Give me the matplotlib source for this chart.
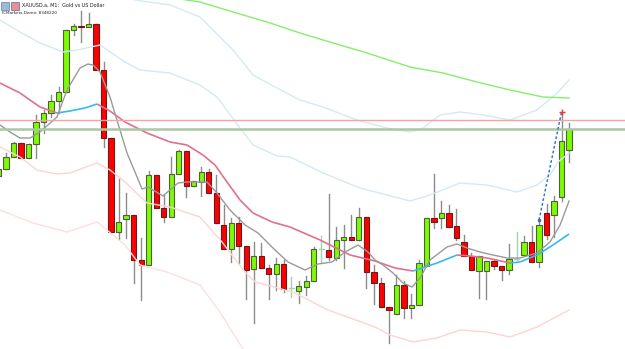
import numpy as np
import matplotlib.pyplot as plt
from matplotlib.patches import Rectangle
from matplotlib.collections import LineCollection

# XAUUSD.a M1 candles (bar index = position in list)
opens = [2332.4, 2333.1, 2334.3, 2335.7, 2334.2, 2335.6, 2337.8, 2338.7, 2339.9, 2340.8,
         2347.0, 2347.4, 2347.3, 2347.6, 2343.0, 2336.2, 2326.8, 2328.1, 2328.5, 2324.0,
         2323.5, 2332.5, 2329.2, 2328.3, 2332.6, 2334.9, 2331.4, 2331.8, 2332.8, 2330.7,
         2327.5, 2325.1, 2327.7, 2325.4, 2323.1, 2324.4, 2323.2, 2322.6, 2323.6, 2321.2,
         2320.9, 2321.3, 2321.9, 2325.1, 2325.0, 2324.2, 2326.0, 2326.3, 2326.0, 2328.3,
         2322.8, 2321.7, 2319.3, 2318.6, 2321.5, 2319.2, 2319.5, 2323.4, 2328.2, 2328.2,
         2328.7, 2327.4, 2325.8, 2324.4, 2322.9, 2322.9, 2323.9, 2323.4, 2323.0, 2324.1,
         2324.5, 2325.8, 2323.8, 2328.7, 2328.5, 2330.3, 2335.0]
highs = [2333.5, 2334.7, 2335.8, 2335.7, 2335.6, 2338.5, 2339.0, 2340.5, 2341.3, 2347.0,
         2347.6, 2348.9, 2348.7, 2347.6, 2343.8, 2336.2, 2332.1, 2330.7, 2328.5, 2326.2,
         2332.9, 2332.5, 2330.5, 2334.3, 2335.0, 2334.9, 2331.9, 2333.3, 2333.1, 2332.5,
         2329.5, 2328.2, 2328.3, 2325.4, 2325.8, 2325.7, 2323.5, 2324.2, 2324.0, 2322.3,
         2321.9, 2322.4, 2325.3, 2326.4, 2330.6, 2327.3, 2327.5, 2328.5, 2329.2, 2328.3,
         2323.5, 2322.2, 2319.3, 2322.5, 2321.9, 2320.6, 2324.0, 2328.2, 2332.6, 2329.9,
         2329.5, 2329.1, 2326.5, 2324.7, 2324.4, 2323.9, 2324.1, 2323.4, 2325.6, 2326.8,
         2326.4, 2327.4, 2328.0, 2329.6, 2330.4, 2338.8, 2337.7]
lows = [2332.2, 2333.1, 2334.3, 2334.2, 2334.2, 2334.2, 2336.7, 2338.3, 2338.7, 2340.8,
        2346.5, 2345.8, 2347.3, 2343.0, 2335.3, 2326.8, 2326.1, 2326.2, 2321.7, 2320.0,
        2323.5, 2329.2, 2327.8, 2328.3, 2332.6, 2330.3, 2331.4, 2330.4, 2330.7, 2327.7,
        2325.1, 2323.8, 2323.7, 2320.1, 2317.7, 2323.2, 2320.1, 2321.0, 2320.8, 2320.3,
        2319.7, 2320.5, 2321.9, 2323.8, 2324.0, 2324.0, 2323.2, 2326.0, 2326.0, 2321.2,
        2319.6, 2319.3, 2315.7, 2318.6, 2318.2, 2318.2, 2319.5, 2323.4, 2327.2, 2327.2,
        2327.3, 2326.0, 2324.4, 2323.0, 2320.2, 2320.1, 2323.1, 2322.0, 2322.6, 2324.0,
        2324.5, 2323.8, 2323.3, 2326.1, 2326.3, 2329.9, 2333.8]
closes = [2333.1, 2334.3, 2335.7, 2334.2, 2335.6, 2337.8, 2338.7, 2339.9, 2340.8, 2347.0,
          2347.4, 2347.3, 2347.6, 2343.0, 2336.2, 2326.8, 2327.8, 2328.5, 2324.0, 2323.5,
          2332.5, 2329.2, 2328.3, 2332.6, 2334.9, 2331.4, 2331.9, 2332.8, 2330.7, 2327.7,
          2325.1, 2327.7, 2325.4, 2323.0, 2324.4, 2323.2, 2322.6, 2323.6, 2321.1, 2321.2,
          2321.4, 2321.9, 2325.1, 2325.1, 2324.3, 2326.0, 2326.3, 2326.0, 2328.3, 2322.8,
          2321.7, 2319.3, 2319.0, 2321.5, 2319.2, 2319.5, 2323.7, 2328.2, 2327.8, 2328.7,
          2327.3, 2326.2, 2324.4, 2323.0, 2324.4, 2323.9, 2323.4, 2323.0, 2324.1, 2324.1,
          2325.8, 2323.8, 2327.5, 2326.5, 2329.9, 2335.9, 2337.1]

# indicator lines (bar position, price)
mid_x = [0.2, 2.86, 5.53, 7.79, 9.52, 11.52, 13.12, 14.85, 16.85, 19.78, 22.84, 25.11,
         27.24, 28.84, 29.77, 32.17, 33.9, 36.43, 38.83, 42.83, 46.82, 50.15, 52.82,
         55.22, 58.41, 61.08, 62.81, 65.07, 68.14, 69.47, 71.73, 73.86, 76.0]
mid_y = [2341.7, 2340.7, 2339.3, 2338.7, 2338.9, 2339.2, 2339.6, 2338.9, 2337.8, 2336.7,
         2335.8, 2335.5, 2334.5, 2333.5, 2332.5, 2330.0, 2328.7, 2327.8, 2327.3, 2326.0,
         2324.5, 2323.9, 2323.2, 2322.9, 2323.7, 2324.5, 2324.4, 2324.2, 2323.7, 2323.8,
         2324.5, 2325.5, 2326.6]

fast_x = [0.2, 1.53, 2.86, 4.2, 5.53, 7.79, 9.12, 10.86, 11.92, 12.59, 13.52, 14.85,
          16.18, 17.12, 19.12, 19.91, 21.91, 23.91, 25.11, 27.77, 29.1, 30.84, 32.84,
          34.57, 36.83, 38.56, 40.83, 42.56, 44.42, 46.16, 47.89, 49.22, 50.15, 51.22,
          52.55, 53.88, 55.08, 56.15, 57.48, 59.74, 61.08, 62.41, 64.14, 65.87, 67.74,
          69.47, 71.73, 73.46, 74.8, 76.0]
fast_y = [2337.5, 2336.8, 2336.2, 2336.2, 2336.8, 2338.3, 2341.0, 2343.2, 2343.6, 2343.5,
          2342.8, 2340.3, 2337.0, 2334.7, 2331.1, 2331.3, 2330.4, 2331.7, 2331.8, 2331.8,
          2330.7, 2329.0, 2327.5, 2326.7, 2325.0, 2323.8, 2323.0, 2323.6, 2323.8, 2324.8,
          2325.5, 2324.8, 2324.0, 2323.5, 2322.7, 2321.7, 2321.3, 2322.2, 2324.0, 2325.3,
          2325.6, 2325.2, 2324.8, 2324.5, 2324.2, 2324.2, 2324.7, 2325.8, 2327.5, 2329.9]

slow_x = [22.0, 24.18, 26.84, 31.24, 35.77, 40.16, 44.56, 49.09, 54.82, 59.21, 63.74,
          68.14, 72.53, 76.0]
slow_y = [2350.6, 2350.1, 2349.8, 2348.8, 2347.8, 2346.7, 2345.7, 2344.7, 2343.3, 2342.7,
          2341.8, 2341.0, 2340.3, 2340.2]

up2_x = [17.0, 18.18, 22.84, 26.84, 31.24, 33.9, 37.1, 40.16, 43.23, 47.75, 51.75, 54.82,
         56.55, 58.81, 61.48, 64.54, 68.14, 71.73, 74.4, 76.0]
up2_y = [2350.5, 2350.0, 2349.5, 2348.3, 2345.0, 2342.5, 2341.2, 2340.0, 2339.3, 2338.0,
         2337.2, 2336.8, 2337.2, 2338.5, 2338.8, 2338.5, 2338.0, 2339.0, 2340.7, 2342.0]

up1_x = [0.2, 2.86, 5.53, 8.59, 10.46, 13.52, 16.85, 18.85, 22.84, 26.84, 29.1, 32.17,
         33.9, 37.1, 38.83, 43.23, 48.15, 54.82, 57.48, 61.48, 65.07, 69.07, 71.73, 73.46,
         74.53, 76.0]
up1_y = [2348.0, 2346.8, 2345.7, 2344.8, 2345.0, 2345.5, 2343.8, 2343.0, 2342.7, 2341.5,
         2340.3, 2337.2, 2335.5, 2334.4, 2334.3, 2332.7, 2331.2, 2329.9, 2330.5, 2331.7,
         2331.5, 2330.8, 2331.5, 2332.5, 2333.8, 2334.7]

lo1_x = [0.2, 2.86, 5.13, 7.79, 9.52, 13.12, 14.85, 16.85, 19.78, 22.84, 26.84, 29.77,
         32.84, 34.17, 37.23, 39.5, 43.89, 50.15, 52.15, 55.22, 58.41, 61.48, 65.07, 68.14,
         71.73, 76.0]
lo1_y = [2335.3, 2334.3, 2333.0, 2332.6, 2332.7, 2333.7, 2333.0, 2331.8, 2329.7, 2329.3,
         2328.3, 2325.8, 2322.8, 2321.8, 2321.2, 2320.7, 2319.0, 2317.3, 2316.5, 2315.8,
         2316.2, 2317.0, 2316.8, 2316.3, 2317.3, 2319.0]

lo2_x = [0.2, 4.6, 9.12, 13.12, 15.25, 16.85, 18.85, 22.45, 26.84, 29.5, 32.57, 34.17]
lo2_y = [2329.0, 2327.7, 2326.8, 2327.8, 2326.5, 2325.5, 2323.5, 2322.8, 2321.5, 2318.8,
         2315.1, 2313.5]

level_red = 2338.0
level_green = 2337.1
trend_x = [72, 75]
trend_y = [2328.0, 2338.8]

fig = plt.figure(figsize=(6.25, 3.49), dpi=100)
ax = fig.add_axes([0, 0, 1, 1])
ax.set_xlim(0.2, 83.45)
ax.set_ylim(2315.1, 2350.0)
ax.axis('off')

# bands and moving averages
ax.plot(up2_x, up2_y, color='#d3eaf3', lw=1.0, zorder=3)
ax.plot(up1_x, up1_y, color='#d3eaf3', lw=1.0, zorder=3)
ax.plot(lo1_x, lo1_y, color='#ffd3d3', lw=1.0, zorder=3)
ax.plot(lo2_x, lo2_y, color='#ffdede', lw=1.0, zorder=3)
ax.plot(slow_x, slow_y, color='#88ec6c', lw=1.0, zorder=3)

pts = np.column_stack([mid_x, mid_y])
segs = np.stack([pts[:-1], pts[1:]], axis=1)
seg_cols = ['#33bbee' if d > 0 else '#e0708c' for d in np.diff(mid_y)]
ax.add_collection(LineCollection(segs, colors=seg_cols, linewidths=1.2, zorder=4))
ax.plot(fast_x, fast_y, color='#9a9a9a', lw=1.0, zorder=4)

# candles
w = 0.7
for i, (o, h, l, c) in enumerate(zip(opens, highs, lows, closes)):
    if o == c:
        ax.plot([i, i], [l, h], color='#9fd6b0', lw=1, zorder=2)
        ax.plot([i - w / 2, i + w / 2], [o, o], color='#9fd6b0', lw=1, zorder=2)
        continue
    ax.plot([i, i], [l, h], color='#8c8c8c', lw=1.0, zorder=1)
    if c > o:
        face, edge = '#7cfc00', '#4f5f3c'
    else:
        face, edge = '#ff0000', '#6e1a1a'
    ax.add_patch(Rectangle((i - w / 2, min(o, c)), w, abs(c - o),
                           facecolor=face, edgecolor=edge, lw=0.8, zorder=2))

# levels and trend line
ax.axhline(level_red, color='#f4a4a4', lw=1, zorder=5)
ax.axhline(level_green, color='#a9c8a2', lw=1.8, zorder=5)
ax.plot(trend_x, trend_y, color='#2a6fbf', lw=1, ls=(0, (2, 1.5)), zorder=6)
ax.plot(trend_x[0], trend_y[0], marker='.', color='#2a6fbf', ms=3, zorder=6)
ax.plot(trend_x[1], trend_y[1], marker='+', color='#ff3030', ms=4, mew=1, zorder=6)

# header
fig.patches.append(Rectangle((1 / 625, 1 - 10 / 349), 8 / 625, 8 / 349,
                             transform=fig.transFigure, facecolor='#9db8d8',
                             edgecolor='#6080a8', lw=0.5))
fig.patches.append(Rectangle((11 / 625, 1 - 10 / 349), 8 / 625, 8 / 349,
                             transform=fig.transFigure, facecolor='#e89090',
                             edgecolor='#5070a0', lw=0.5))
fig.text(22 / 625, 1 - 5.5 / 349, 'XAUUSD.a, M1:  Gold vs US Dollar', fontsize=3.5,
         va='center', ha='left', color='#202020')
fig.text(2 / 625, 1 - 13.5 / 349, 'ICMarkets-Demo: 8348220', fontsize=3.0,
         va='center', ha='left', color='#202020')

fig.savefig('out.png', dpi=100)
